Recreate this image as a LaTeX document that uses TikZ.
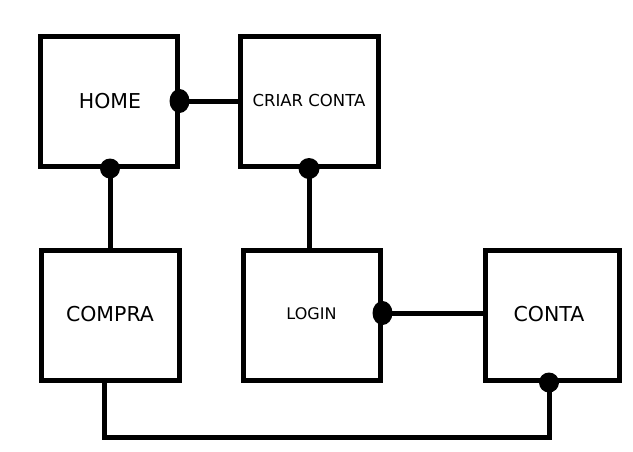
\documentclass[tikz,border=0pt]{standalone}
\usepackage{fontspec}
\setmainfont{DejaVu Sans}
\begin{document}
\begin{tikzpicture}[x=1pt,y=-1pt,
  box/.style={draw,line width=5pt,minimum height=130pt,inner sep=0pt,font=\fontsize{20.5pt}{24pt}\selectfont},
  smalltext/.style={font=\fontsize{16.5pt}{20pt}\selectfont},
  link/.style={line width=5pt},
  dot/.style={fill=black}]
\useasboundingbox (0,0) rectangle (633,451);
\node[box,minimum width=137pt] (home) at (108.5,101) {\hspace*{3pt}HOME};
\node[box,minimum width=138pt,smalltext] (criar) at (309,101) {\raisebox{1pt}{CRIAR CONTA}};
\node[box,minimum width=138pt] (compra) at (110,315) {\raisebox{2pt}{COMPRA}};
\node[box,minimum width=137pt,font=\fontsize{16pt}{19pt}\selectfont] (login) at (311.5,315) {\raisebox{2pt}{LOGIN}};
\node[box,minimum width=134pt] (conta) at (552,315) {\raisebox{2pt}{CONTA}\hspace*{6pt}};
\coordinate (hs) at (home.south -| 110,0);
\coordinate (cs) at (criar.south -| 309,0);
\coordinate (ct) at (compra.north -| 110,0);
\coordinate (lt) at (login.north -| 309,0);
\coordinate (le) at (login.east |- 0,313);
\coordinate (ce) at (conta.west |- 0,313);
\coordinate (cb) at (compra.south -| 104,0);
\coordinate (kb) at (conta.south -| 549,0);
\coordinate (bl) at (104,437);
\coordinate (br) at (549,437);
\draw[link] (home.east) -- (criar.west);
\draw[link] (hs) -- (ct);
\draw[link] (cs) -- (lt);
\draw[link] (le) -- (ce);
\draw[link] (cb) -- (bl) -- (br) -- (kb);
\fill[dot] (home.east) ellipse (10pt and 12pt);
\fill[dot] (hs) circle (10pt);
\fill[dot] (cs) circle (10.5pt);
\fill[dot] (le) ellipse (10pt and 12pt);
\fill[dot] (kb) circle (10pt);
\end{tikzpicture}
\end{document}
